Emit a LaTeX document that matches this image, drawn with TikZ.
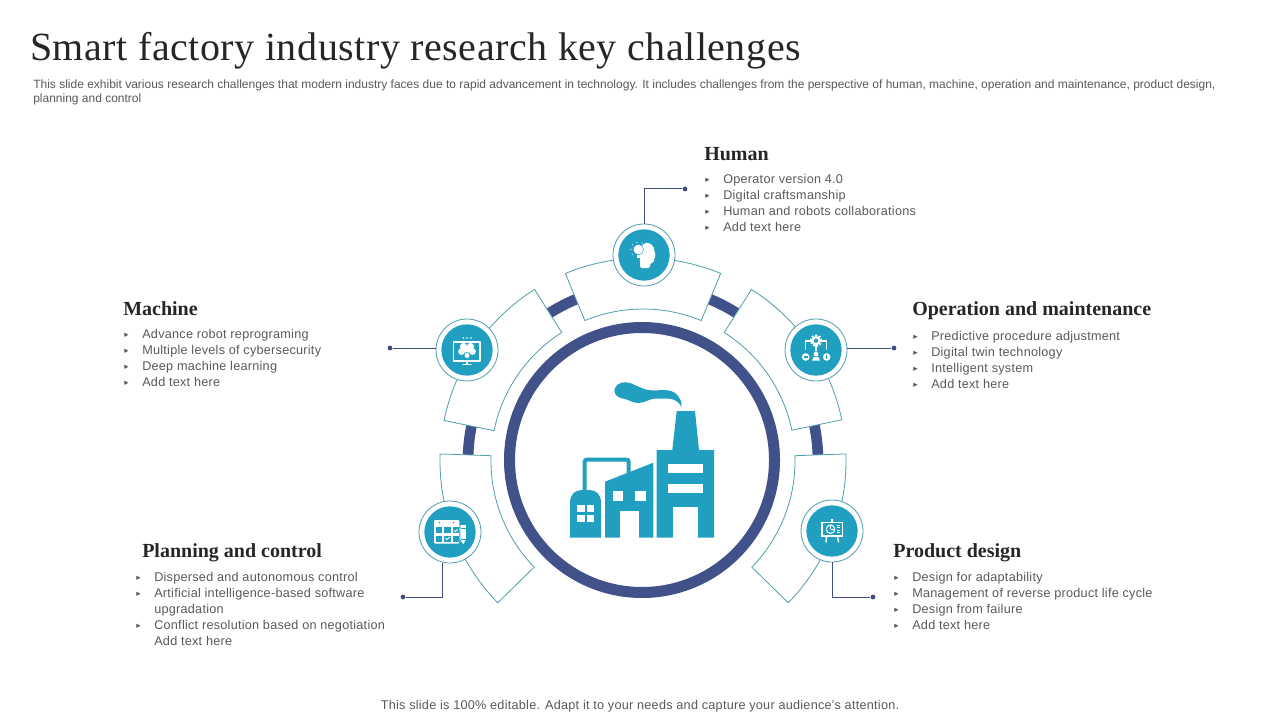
\documentclass[tikz,border=0pt]{standalone}
\usepackage{fontspec}
\setmainfont{Liberation Sans}
\newfontfamily\titlefont[LetterSpace=1.3]{Liberation Serif}
\newfontfamily\headfont{Liberation Serif}
\newfontfamily\bodyfont[LetterSpace=2]{Liberation Sans}
\newfontfamily\markfont{DejaVu Sans}
\definecolor{tealfill}{HTML}{209FC0}
\definecolor{tealline}{HTML}{4F9DAE}
\definecolor{navyring}{HTML}{41528A}
\definecolor{navyline}{HTML}{3F4E7E}
\definecolor{bodygrey}{HTML}{595959}
\definecolor{headgrey}{HTML}{262626}
\newcommand{\rowmark}{\makebox[13.5pt][l]{\raisebox{.6pt}{\markfont\fontsize{6.5}{6.5}\selectfont ▸}}}
\newcommand{\rowpad}{\makebox[13.5pt][l]{}}
\tikzset{
  segline/.style={draw=tealline,fill=white,line width=.6pt},
  iconring/.style={circle,draw=tealline,fill=white,line width=.6pt,minimum size=46.5pt,inner sep=0pt},
  icondisc/.style={circle,fill=tealfill,minimum size=38.5pt,inner sep=0pt},
  dotnode/.style={circle,fill=navyline,minimum size=3.6pt,inner sep=0pt},
  headnode/.style={anchor=west,inner sep=0pt,text=headgrey,font=\headfont\bfseries\fontsize{15}{17}\selectfont},
  listnode/.style={anchor=north west,inner sep=0pt,align=left,text=bodygrey,font=\bodyfont\fontsize{9.5}{12}\selectfont},
  glyph/.style={draw=white,line width=.8pt,line cap=round,line join=round},
}
\begin{document}
\begin{tikzpicture}[x=.75pt,y=.75pt]
  \useasboundingbox (0,0) rectangle (1280,-720);
  \node[anchor=west,inner sep=0pt,text=headgrey,font=\titlefont\fontsize{30}{34}\selectfont] (title) at (30,-51) {Smart factory industry research key challenges};
  \node[anchor=north west,inner sep=0pt,align=left,text=bodygrey,font=\fontsize{9}{10.5}\selectfont] (intro) at (33,-80) {This slide exhibit various research challenges that modern industry faces due to rapid advancement in technology. It includes challenges from the perspective of human, machine, operation and maintenance, product design,\\planning and control};
  \draw[navyring,line width=8.25pt] (642,-460) circle[radius=132.5];
  \begin{scope}[shift={(643,-461)}]
    \draw[navyring,line width=8pt] (0:175) arc[start angle=0,end angle=180,radius=175];
    \foreach \a/\b in {67.5/112.5,122.3/168.5,11.7/57.7,178/224.3,2/-44.3}{
      \draw[segline] (\a:152) arc[start angle=\a,end angle=\b,radius=152] -- (\b:203) arc[start angle=\b,end angle=\a,radius=203] -- cycle;
    }
  \end{scope}
  \fill[tealfill] (656.7,-537.7) -- (656.7,-450) -- (672.3,-450) -- (676.7,-411) -- (695,-411) -- (699,-450) -- (714,-450) -- (714,-537.7) -- cycle;
  \fill[tealfill] (605,-537.7) -- (605,-481.7) -- (653.3,-462.7) -- (653.3,-537.7) -- cycle;
  \fill[tealfill] (570,-537.7) -- (570,-503) .. controls (570,-494) and (575,-490) .. (582,-490) -- (589,-490) .. controls (596,-490) and (601,-494) .. (601,-503) -- (601,-537.7) -- cycle;
  \draw[tealfill,line width=3pt,rounded corners=1.5] (584.7,-492) -- (584.7,-459.7) -- (628.7,-459.7) -- (628.7,-474);
  \fill[tealfill] (615,-388) .. controls (617,-383) and (624,-381) .. (630,-383) .. controls (638,-386) and (645,-391) .. (655,-390.5) .. controls (662,-390) and (670,-389) .. (675,-393) .. controls (680,-397) and (682,-402) .. (681.5,-407) .. controls (679,-402) and (675,-399) .. (668,-398.5) -- (656,-398.5) .. controls (648,-399) and (645,-403) .. (638,-403) .. controls (632,-403) and (628,-399) .. (621,-398) .. controls (616,-397) and (613,-392) .. (615,-388) -- cycle;
  \foreach \xa/\ya/\xb/\yb in {668.3/464/702.7/473.3,668.3/484/702.7/493.3,672.7/506.7/698/537.7,612.7/490.7/623.3/501.3,635.3/490.7/646/501.3,620/510.7/638.7/537.7,577.3/505/584.7/512.3,587.3/505/594.3/512.3,577.3/515/584.7/522.3,587.3/515/594.3/522.3}{
    \fill[white] (\xa,-\ya) rectangle (\xb,-\yb);
  }
  \foreach \n/\x/\y in {human/644/255,machine/467/350,operation/816/350,planning/450/532,product/832/531}{
    \node[iconring] (\n) at (\x,-\y) {};
    \node[icondisc] (\n disc) at (\n) {};
  }
  \begin{scope}[shift={(644,-255)}]
    \fill[white,rounded corners=1.2] (-4,-13) -- (-4,-5) -- (-5,4) -- (-1,11) -- (4,12.5) -- (9.5,9) -- (10.5,3) -- (12,-1.5) -- (10,-2.5) -- (10,-7.5) -- (6,-8) -- (6,-13) -- cycle;
    \draw[fill=white,draw=tealfill,line width=.35pt] (-5.7,5.5) circle[radius=5.2];
    \fill[white] (-7,-2.5) rectangle (-4.4,.5);
    \foreach \a in {60,100,140,180,220}{\fill[white] ([shift={(-5.7,5.5)}]\a:7.4) circle[radius=.6];}
  \end{scope}
  \begin{scope}[shift={(467,-350)}]
    \draw[glyph] (-13.5,8) rectangle (13,-11);
    \draw[glyph] (0,-11) -- (0,-14) (-4,-14.5) -- (4,-14.5);
    \foreach \x/\y/\r in {-3.5/3.5/3.6,3.5/3.5/3.6,-5.5/-1.5/3.4,5.5/-1.5/3.4,0/0/3.5}{\fill[white] (\x,\y) circle[radius=\r];}
    \draw[fill=white,draw=tealfill,line width=.5pt] (0,-5.5) circle[radius=3];
    \foreach \x in {-3.5,0,4}{\fill[white] (\x,12) circle[radius=.8];}
  \end{scope}
  \begin{scope}[shift={(816,-350)}]
    \draw[glyph] (-10.5,1) -- (-10.5,9) -- (10.5,9) -- (10.5,1) (0,9) -- (0,-1);
    \draw[white,line width=1.6pt,dash pattern=on 1.4pt off 1.2pt] (0,9.3) circle[radius=5.2];
    \draw[fill=tealfill,draw=white,line width=1.6pt] (0,9.3) circle[radius=3.5];
    \fill[white] (-10.3,-7) circle[radius=3.8] (10.7,-7) circle[radius=3.8] (0,-4.2) circle[radius=2.4];
    \fill[white] (-3.8,-10.5) -- (-2.5,-7) -- (2.5,-7) -- (3.8,-10.5) -- cycle;
    \draw[tealfill,line width=.9pt] (-12,-7) -- (-8.5,-7) (10.7,-4.8) -- (10.7,-9.2);
  \end{scope}
  \begin{scope}[shift={(450,-532)}]
    \fill[white,rounded corners=.8] (-16,12) rectangle (9.3,-11.5);
    \foreach \x in {-14.5,-6,2.5}{
      \foreach \y in {4.8,-3.5}{\fill[tealfill] (\x,\y) rectangle (\x+6.5,\y-6.2);}
    }
    \fill[tealfill] (-10.5,9.5) circle[radius=.9] (3.5,9.5) circle[radius=.9];
    \draw[white,line width=.6pt] (-4.5,-6) -- (-3,-7.5) -- (0,-5) (4,1.5) -- (5.5,.5) -- (7.5,2.5);
    \draw[fill=white,draw=white,line width=.5pt] (10.8,6.5) -- (15.5,6.5) -- (15.5,-7.5) -- (13.15,-11.5) -- (10.8,-7.5) -- cycle;
    \draw[tealfill,line width=.5pt] (10.8,4) -- (15.5,4) (10.8,-7.5) -- (15.5,-7.5);
  \end{scope}
  \begin{scope}[shift={(832,-531)}]
    \fill[white] (-11,9.5) rectangle (11.3,-6);
    \fill[tealfill] (-9.2,7.7) rectangle (9.5,-4.2);
    \fill[white] (-1,12) rectangle (1,9);
    \draw[glyph,line width=1.1pt] (-5.5,-6) -- (-6,-11) (5.5,-6) -- (6.5,-11);
    \draw[white,line width=.8pt] (-1.5,1.8) circle[radius=4.2];
    \draw[white,line width=.7pt] (-1.5,1.8) -- (-1.5,6) (-1.5,1.8) -- (2.5,1.8) (5,6) -- (8,6) (5,3.5) -- (8,3.5) (5,1) -- (8,1) (5,-1.5) -- (8,-1.5);
  \end{scope}
  \node[dotnode] (humandot) at (685,-189) {};
  \node[dotnode] (machinedot) at (390,-348) {};
  \node[dotnode] (operationdot) at (894,-348) {};
  \node[dotnode] (planningdot) at (403,-597) {};
  \node[dotnode] (productdot) at (873,-597) {};
  \begin{scope}[navyline,line width=.75pt]
    \draw (human.north) |- (humandot);
    \draw (machine.west |- machinedot) to (machinedot);
    \draw (operation.east |- operationdot) to (operationdot);
    \draw (planning.south -| 442,0) |- (planningdot);
    \draw (product.south) |- (productdot);
  \end{scope}
  \node[headnode] (humanhead) at (704,-154) {Human};
  \node[headnode] (machinehead) at (123,-309) {Machine};
  \node[headnode] (operationhead) at (912,-311) {Operation and maintenance};
  \node[headnode] (planninghead) at (142,-553) {Planning and control};
  \node[headnode] (producthead) at (893,-553) {Product design};
  \node[listnode] (humanlist) at (705,-174) {\rowmark Operator version 4.0\\\rowmark Digital craftsmanship\\\rowmark Human and robots collaborations\\\rowmark Add text here};
  \node[listnode] (machinelist) at (124,-329) {\rowmark Advance robot reprograming\\\rowmark Multiple levels of cybersecurity\\\rowmark Deep machine learning\\\rowmark Add text here};
  \node[listnode] (operationlist) at (913,-331) {\rowmark Predictive procedure adjustment\\\rowmark Digital twin technology\\\rowmark Intelligent system\\\rowmark Add text here};
  \node[listnode] (planninglist) at (136,-572) {\rowmark Dispersed and autonomous control\\\rowmark Artificial intelligence-based software\\\rowpad upgradation\\\rowmark Conflict resolution based on negotiation\\\rowpad Add text here};
  \node[listnode] (productlist) at (894,-572) {\rowmark Design for adaptability\\\rowmark Management of reverse product life cycle\\\rowmark Design from failure\\\rowmark Add text here};
  \node[inner sep=0pt,text=bodygrey,font=\bodyfont\fontsize{9.5}{12}\selectfont] (footer) at (640,-706) {This slide is 100\% editable. Adapt it to your needs and capture your audience's attention.};
\end{tikzpicture}
\end{document}
